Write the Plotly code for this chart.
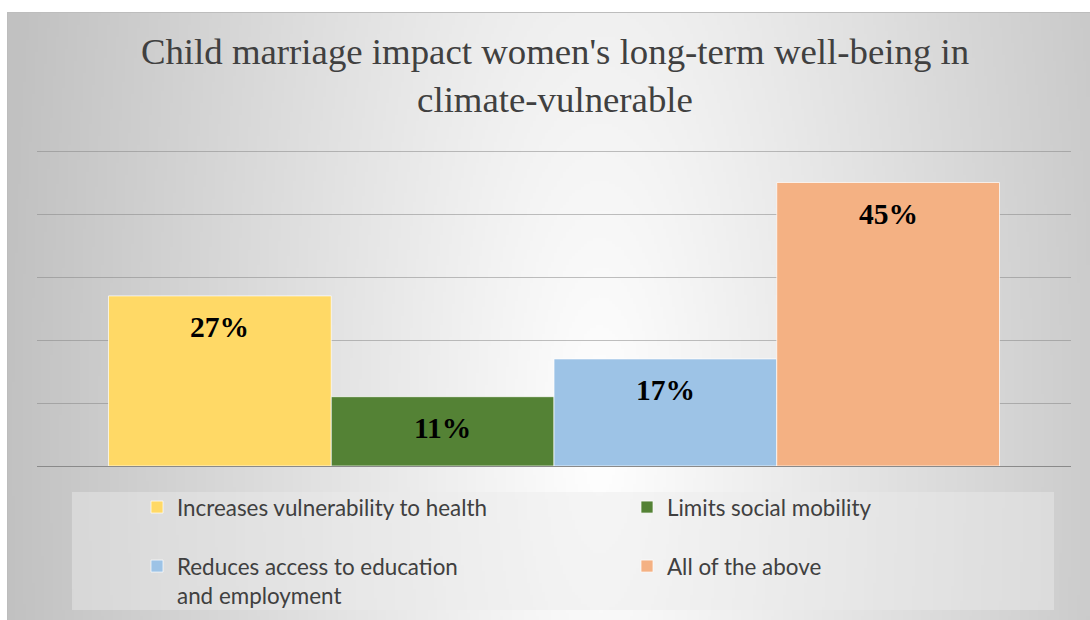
import base64
import struct
import zlib

import numpy as np
import plotly.graph_objects as go

# ---- data ---------------------------------------------------------------
categories = [
    "Increases vulnerability to health",
    "Limits social mobility",
    "Reduces access to education<br>and employment",
    "All of the above",
]
shares = [27, 11, 17, 45]  # percent of respondents
bar_colors = ["#FFD966", "#548235", "#9DC3E6", "#F4B183"]
y_ticks = [0, 10, 20, 30, 40, 50]
title_text = ("Child marriage impact women's long-term well-being in"
              "<br>climate-vulnerable")

# ---- geometry (pixels) --------------------------------------------------
W, H = 1090, 620
ML, MR, MT, MB = 37, 19, 150, 154
PW, PH = W - ML - MR, H - MT - MB
Y_TOP = 50.16  # a hair above 50 so the top gridline is drawn


def px_x(X):
    return (X - ML) / PW


def px_y(Y):
    return (H - MB - Y) / PH


# ---- radial grey background as a small PNG --------------------------------
def gradient_png(w, h, x0, y0, x1, y1):
    xs = np.linspace(x0, x1, w)
    ys = np.linspace(y0, y1, h)
    X, Y = np.meshgrid(xs, ys)
    r = np.sqrt(((X - 600) / 600.0) ** 2 + ((Y - 440) / 1800.0) ** 2)
    g = 255 - 62 * np.clip(r, 0, 1)
    img = np.clip(g, 0, 255).astype(np.uint8)
    raw = b"".join(b"\x00" + row.tobytes() for row in img)

    def chunk(tag, data):
        c = struct.pack(">I", len(data)) + tag + data
        return c + struct.pack(">I", zlib.crc32(tag + data) & 0xFFFFFFFF)

    png = b"\x89PNG\r\n\x1a\n"
    png += chunk(b"IHDR", struct.pack(">IIBBBBB", w, h, 8, 0, 0, 0, 0))
    png += chunk(b"IDAT", zlib.compress(raw, 9))
    png += chunk(b"IEND", b"")
    return "data:image/png;base64," + base64.b64encode(png).decode()


BX0, BY0, BX1, BY1 = 7, 12, W, H
bg_src = gradient_png(361, 203, BX0, BY0, BX1, BY1)

# ---- figure -------------------------------------------------------------
fig = go.Figure()

legend_pos = [(137, 486), (627, 486), (137, 545), (627, 545)]
legend_names = ["legend", "legend2", "legend3", "legend4"]

for i, (name, val, col) in enumerate(zip(categories, shares, bar_colors)):
    fig.add_trace(go.Bar(
        x=[i], y=[val], name=name, width=1,
        marker=dict(color=col, line=dict(color="rgba(255,255,255,0.7)", width=1)),
        legend=legend_names[i],
        hoverinfo="skip",
    ))
    fig.add_annotation(
        x=i, y=val, text=f"<b>{val}%</b>", showarrow=False,
        yshift=-31, yanchor="middle",
        font=dict(family="Liberation Serif", size=29.5, color="#000000"),
    )

legend_style = dict(
    bgcolor="rgba(0,0,0,0)", borderwidth=0, xref="container", yref="container",
    xanchor="left", yanchor="top", valign="top", itemwidth=30,
    font=dict(family="Lato", size=22.4, color="#404040"),
)
layout_legends = {}
for lname, (lx, ly) in zip(legend_names, legend_pos):
    layout_legends[lname] = dict(legend_style, x=lx / W, y=1 - ly / H)

fig.update_layout(
    width=W, height=H,
    margin=dict(l=ML, r=MR, t=MT, b=MB, pad=0, autoexpand=False),
    paper_bgcolor="#ffffff",
    plot_bgcolor="rgba(0,0,0,0)",
    barmode="overlay",
    showlegend=True,
    title=dict(
        text=title_text, x=555 / W, xanchor="center",
        y=1 - 64 / H, yanchor="top", xref="container", yref="container",
        font=dict(family="Liberation Serif", size=36.8, color="#404040"),
    ),
    xaxis=dict(range=[-0.821, 3.821], showticklabels=False, showgrid=False,
               zeroline=False, showline=False, fixedrange=True),
    yaxis=dict(range=[0, Y_TOP], tickvals=y_ticks, showticklabels=False,
               gridcolor="rgba(130,130,130,0.5)", gridwidth=1,
               zeroline=True, zerolinecolor="#8a8a8a", zerolinewidth=1,
               showline=False, fixedrange=True),
    images=[dict(
        source=bg_src, xref="paper", yref="paper",
        x=px_x(BX0), y=px_y(BY0),
        sizex=px_x(BX1) - px_x(BX0), sizey=px_y(BY0) - px_y(BY1),
        xanchor="left", yanchor="top", sizing="stretch", layer="below",
    )],
    shapes=[
        # chart frame
        dict(type="rect", xref="paper", yref="paper",
             x0=px_x(BX0 + 0.5), y0=px_y(H + 2), x1=px_x(W + 2), y1=px_y(BY0 + 0.5),
             line=dict(color="#bdbdbd", width=1), fillcolor="rgba(0,0,0,0)",
             layer="below"),
        # legend panel
        dict(type="rect", xref="paper", yref="paper",
             x0=px_x(72), y0=px_y(610), x1=px_x(1054), y1=px_y(492),
             line=dict(width=0), fillcolor="rgba(235,235,235,0.45)",
             layer="below"),
    ],
    **layout_legends,
)

fig.write_html("out.html")
